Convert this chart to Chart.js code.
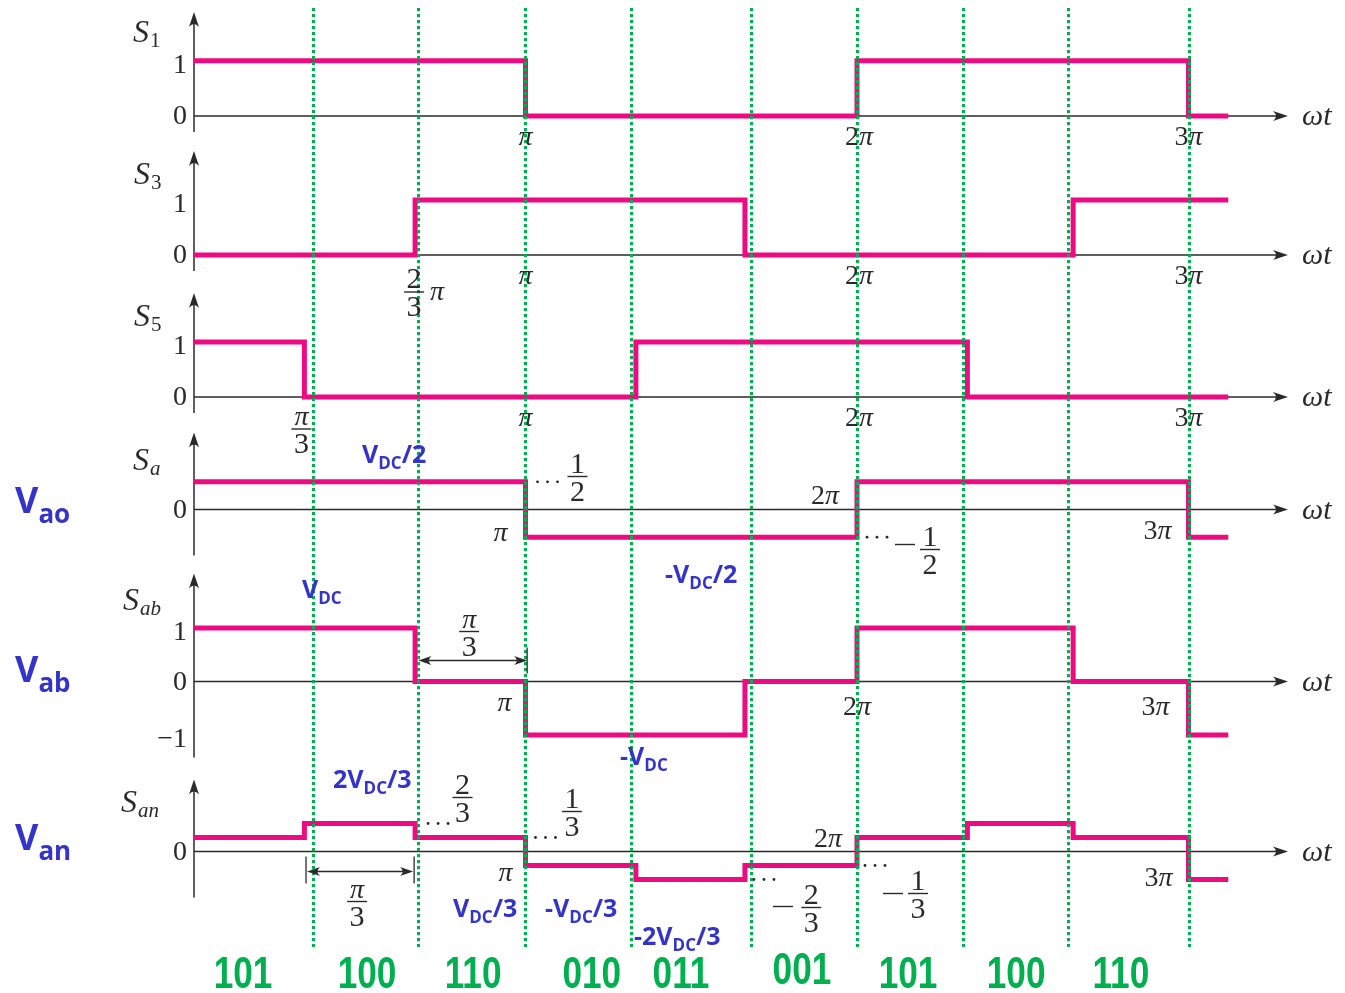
<!DOCTYPE html>
<html>
<head>
<meta charset="utf-8">
<script src="https://cdn.jsdelivr.net/npm/chart.js@4.4.0/dist/chart.umd.min.js"></script>
<style>
  html, body { margin: 0; padding: 0; background: #fff; }
  #wrap { width: 1345px; height: 993px; }
</style>
</head>
<body>
<div id="wrap"><canvas id="c" width="1345" height="993"></canvas></div>
<script>
// switching functions, x in units of pi
const s1Edges = [0, 1, 2, 3, 3.12];
const s1Levels = [1, 0, 1, 0];
const s3Edges = [0, 0.667, 1.662, 2.652, 3.12];
const s3Levels = [0, 1, 0, 1];
const s5Edges = [0, 0.333, 1.333, 2.333, 3.12];
const s5Levels = [1, 0, 1, 0];
const saEdges = [0, 1, 2, 3, 3.12];
const saLevels = [0.5, -0.5, 0.5, -0.5];
const sabEdges = [0, 0.667, 1, 1.662, 2, 2.652, 3, 3.12];
const sabLevels = [1, 0, -1, 0, 1, 0, -1];
const sanEdges = [0, 0.333, 0.667, 1, 1.333, 1.662, 2, 2.333, 2.652, 3, 3.12];
const sanLevels = [0.333, 0.667, 0.333, -0.333, -0.667, -0.333, 0.333, 0.667, 0.333, -0.667];

// y tick labels of each panel
const s1Ticks = [1, 0];
const s3Ticks = [1, 0];
const s5Ticks = [1, 0];
const saTicks = [0];
const sabTicks = [1, 0, -1];
const sanTicks = [0];

// green sector boundaries and switch states
const guideX = [0.359, 0.677, 0.997, 1.318, 1.680, 2.0, 2.320, 2.638, 3.0];
const stateCodes = ['101', '100', '110', '010', '011', '001', '101', '100', '110'];
const stateX = [0.148, 0.522, 0.842, 1.2, 1.469, 1.834, 2.154, 2.48, 2.796];

const W = 1345, H = 993;
const X_ORIGIN = 194, PX_PER_PI = 331.5, X_AXIS_END = 3.30;

const PINK = '#ee0a80', GREEN = '#00b050', BLUE = '#3434c8', INK = '#2a2a2a';
const SERIF = "'Liberation Serif', 'DejaVu Serif', serif";
const up = s => `${s}px ${SERIF}`;
const it = s => `italic ${s}px ${SERIF}`;
const blue = s => `bold ${s}px 'Open Sans', 'DejaVu Sans', sans-serif`;

// panel layout: zero line pixel, pixels per unit, axis extent above / below zero
const panels = [
  { id: 'yS1', edges: s1Edges, levels: s1Levels, ticks: s1Ticks, sub: '1', subIt: false, zero: 116, unit: 55.3, top: 104, bottom: 16, lx: 133, ly: -74 },
  { id: 'yS3', edges: s3Edges, levels: s3Levels, ticks: s3Ticks, sub: '3', subIt: false, zero: 255, unit: 55, top: 104, bottom: 16, lx: 134, ly: -71 },
  { id: 'yS5', edges: s5Edges, levels: s5Levels, ticks: s5Ticks, sub: '5', subIt: false, zero: 397, unit: 55, top: 104, bottom: 16, lx: 134, ly: -71 },
  { id: 'ySa', edges: saEdges, levels: saLevels, ticks: saTicks, sub: 'a', subIt: true, zero: 509.5, unit: 55.4, top: 77, bottom: 46, lx: 133, ly: -40 },
  { id: 'ySab', edges: sabEdges, levels: sabLevels, ticks: sabTicks, sub: 'ab', subIt: true, zero: 681.5, unit: 53.5, top: 108, bottom: 76, lx: 123, ly: -72 },
  { id: 'ySan', edges: sanEdges, levels: sanLevels, ticks: sanTicks, sub: 'an', subIt: true, zero: 851.5, unit: 42, top: 72, bottom: 46, lx: 121, ly: -40 }
];

const scales = {
  x: { type: 'linear', display: false, min: -X_ORIGIN / PX_PER_PI, max: (W - X_ORIGIN) / PX_PER_PI }
};
panels.forEach(p => {
  scales[p.id] = { type: 'linear', display: false, min: (p.zero - H) / p.unit, max: p.zero / p.unit };
});

const datasets = panels.map(p => ({
  data: p.edges.map((x, i) => ({ x: x, y: p.levels[Math.min(i, p.levels.length - 1)] })),
  yAxisID: p.id,
  stepped: true,
  borderColor: PINK,
  borderWidth: 5,
  borderJoinStyle: 'miter',
  borderCapStyle: 'butt',
  pointRadius: 0,
  fill: false
}));

function seg(ctx, x1, y1, x2, y2) {
  ctx.beginPath(); ctx.moveTo(x1, y1); ctx.lineTo(x2, y2); ctx.stroke();
}

function arrowHead(ctx, x, y, ang, len = 15, hw = 5) {
  ctx.save();
  ctx.translate(x, y);
  ctx.rotate(ang);
  ctx.beginPath();
  ctx.moveTo(0, 0);
  ctx.lineTo(-len, -hw);
  ctx.quadraticCurveTo(-len * 0.6, 0, -len, hw);
  ctx.closePath();
  ctx.fill();
  ctx.restore();
}

function text(ctx, s, x, y, font, align = 'left', base = 'alphabetic', color = INK) {
  ctx.font = font; ctx.fillStyle = color;
  ctx.textAlign = align; ctx.textBaseline = base;
  ctx.fillText(s, x, y);
}

// pieces = [[string, font], ...] drawn side by side, centred on cx
function pieces(ctx, parts, cx, base, align = 'center') {
  let w = 0;
  parts.forEach(([s, f]) => { ctx.font = f; w += ctx.measureText(s).width; });
  let x = align === 'center' ? cx - w / 2 : (align === 'right' ? cx - w : cx);
  parts.forEach(([s, f]) => {
    text(ctx, s, x, base, f);
    ctx.font = f; x += ctx.measureText(s).width;
  });
}

function frac(ctx, num, den, cx, barY, numFont = up(30), denFont = up(30)) {
  ctx.font = numFont; const w1 = ctx.measureText(num).width;
  ctx.font = denFont; const w2 = ctx.measureText(den).width;
  const w = Math.max(w1, w2) + 5;
  ctx.fillStyle = INK;
  ctx.fillRect(cx - w / 2, barY - 0.7, w, 1.4);
  text(ctx, num, cx, barY - 4, numFont, 'center');
  text(ctx, den, cx, barY + 24, denFont, 'center');
}

function dots(ctx, x, y) {
  ctx.fillStyle = INK;
  for (let i = 0; i < 3; i++) {
    ctx.beginPath(); ctx.arc(x + i * 10, y, 1.4, 0, Math.PI * 2); ctx.fill();
  }
}

function minus(ctx, cx, y) {
  ctx.fillStyle = INK;
  ctx.fillRect(cx - 10, y - 0.7, 20, 1.4);
}

function piTick(ctx, k, cx, base) {
  pieces(ctx, k ? [[k, up(28)], ['\u03c0', it(28)]] : [['\u03c0', it(28)]], cx, base);
}

// blue voltage label: pre + subscript + post
function vLabel(ctx, pre, sub, post, x, base, big, small, drop) {
  text(ctx, pre, x, base, blue(big), 'left', 'alphabetic', BLUE);
  ctx.font = blue(big); x += ctx.measureText(pre).width;
  text(ctx, sub, x, base + drop, blue(small), 'left', 'alphabetic', BLUE);
  ctx.font = blue(small); x += ctx.measureText(sub).width;
  if (post) text(ctx, post, x, base, blue(big), 'left', 'alphabetic', BLUE);
}

function dimArrow(ctx, x1, x2, y) {
  ctx.lineWidth = 1.3;
  seg(ctx, x1 + 6, y, x2 - 6, y);
  arrowHead(ctx, x1, y, Math.PI, 13, 4.5);
  arrowHead(ctx, x2, y, 0, 13, 4.5);
}

const schematic = {
  id: 'schematic',
  beforeDatasetsDraw(chart) {
    const ctx = chart.ctx, xs = chart.scales.x;
    ctx.save();
    ctx.strokeStyle = INK; ctx.fillStyle = INK; ctx.lineWidth = 1.5;
    const x0 = xs.getPixelForValue(0), xe = xs.getPixelForValue(X_AXIS_END);
    panels.forEach(p => {
      const y0 = chart.scales[p.id].getPixelForValue(0);
      seg(ctx, x0, y0, xe - 8, y0);
      arrowHead(ctx, xe, y0, 0);
      seg(ctx, x0, y0 + p.bottom, x0, y0 - p.top + 8);
      arrowHead(ctx, x0, y0 - p.top, -Math.PI / 2);
    });
    ctx.restore();
  },
  afterDatasetsDraw(chart) {
    const ctx = chart.ctx, xs = chart.scales.x;
    ctx.save();
    ctx.strokeStyle = GREEN; ctx.lineWidth = 3; ctx.setLineDash([3.3, 2.7]);
    guideX.forEach(v => {
      const x = Math.round(xs.getPixelForValue(v)) + 0.5;
      seg(ctx, x, 8, x, 947);
    });
    ctx.restore();
  },
  afterDraw(chart) {
    const ctx = chart.ctx, xs = chart.scales.x;
    const X = v => xs.getPixelForValue(v);
    const Y = (id, v) => chart.scales[id].getPixelForValue(v);
    ctx.save();

    // panel names, y ticks and omega t
    panels.forEach(p => {
      const z = Y(p.id, 0);
      pieces(ctx, [['S', it(32)]], p.lx, z + p.ly, 'left');
      ctx.font = it(32);
      const sw = ctx.measureText('S').width;
      text(ctx, p.sub, p.lx + sw + 1, z + p.ly + 5, p.subIt ? it(21) : up(21));
      p.ticks.forEach(t => {
        const lab = t < 0 ? '\u2212' + (-t) : String(t);
        text(ctx, lab, X(0) - 7, Y(p.id, t) + (t === 0 ? 1 : 5), up(28), 'right', 'middle');
      });
      pieces(ctx, [['\u03c9', it(30)], ['t', it(30)]], X(X_AXIS_END) + 14, z + 9, 'left');
    });

    // S1, S3, S5 angle ticks
    ['yS1', 'yS3', 'yS5'].forEach(id => {
      const b = Y(id, 0) + 29;
      piTick(ctx, '', X(1), b);
      piTick(ctx, '2', X(2) + 2, b);
      piTick(ctx, '3', X(3), b);
    });
    let z = Y('yS3', 0);
    frac(ctx, '2', '3', X(0.667) - 1, z + 37);
    text(ctx, '\u03c0', X(0.667) + 15, z + 45, it(28));
    z = Y('yS5', 0);
    frac(ctx, '\u03c0', '3', X(0.333) - 3, z + 32, it(28), up(30));

    // Sa
    z = Y('ySa', 0);
    piTick(ctx, '', X(1) - 25, z + 31);
    dots(ctx, X(1) + 12, Y('ySa', 0.5));
    frac(ctx, '1', '2', X(1) + 52, z - 33);
    piTick(ctx, '2', X(2) - 32, z - 6);
    dots(ctx, X(2) + 10, Y('ySa', -0.5));
    minus(ctx, X(2) + 48, z + 35);
    frac(ctx, '1', '2', X(2) + 73, z + 40);
    piTick(ctx, '3', X(3) - 31, z + 29);

    // Sab
    z = Y('ySab', 0);
    frac(ctx, '\u03c0', '3', X(0.83), z - 50, it(28), up(30));
    ctx.strokeStyle = INK; ctx.fillStyle = INK;
    dimArrow(ctx, X(0.677), X(1.005), z - 21);
    seg(ctx, X(1.005), z - 34, X(1.005), z - 8);
    piTick(ctx, '', X(1) - 21, z + 29);
    piTick(ctx, '2', X(2), z + 33);
    piTick(ctx, '3', X(3) - 33, z + 33);

    // San
    z = Y('ySan', 0);
    dots(ctx, X(0.667) + 13, Y('ySan', 0.667));
    frac(ctx, '2', '3', X(0.81), z - 54);
    dots(ctx, X(1) + 10, Y('ySan', 0.333));
    frac(ctx, '1', '3', X(1.14), z - 40);
    piTick(ctx, '', X(1) - 20, z + 29);
    ctx.strokeStyle = INK; ctx.fillStyle = INK;
    seg(ctx, X(0.338), z + 5, X(0.338), z + 32);
    seg(ctx, X(0.664), z + 5, X(0.664), z + 32);
    dimArrow(ctx, X(0.338) + 1, X(0.664) - 1, z + 20);
    frac(ctx, '\u03c0', '3', X(0.492), z + 50, it(28), up(30));
    dots(ctx, X(1.662) + 9, Y('ySan', -0.667));
    minus(ctx, X(1.662) + 38, z + 55);
    frac(ctx, '2', '3', X(1.862), z + 56);
    piTick(ctx, '2', X(2) - 29, z - 5);
    dots(ctx, X(2) + 8, Y('ySan', -0.333));
    minus(ctx, X(2) + 36, z + 42);
    frac(ctx, '1', '3', X(2.184), z + 42);
    piTick(ctx, '3', X(3) - 30, z + 34);

    // blue voltage labels
    vLabel(ctx, 'V', 'ao', '', 15, 513, 36, 26, 10);
    vLabel(ctx, 'V', 'ab', '', 15, 682, 36, 26, 10);
    vLabel(ctx, 'V', 'an', '', 15, 850, 36, 26, 10);
    vLabel(ctx, 'V', 'DC', '/2', 362, 463, 25, 17, 6);
    vLabel(ctx, 'V', 'DC', '', 302, 598, 25, 17, 6);
    vLabel(ctx, '-V', 'DC', '/2', 665, 583, 25, 17, 6);
    vLabel(ctx, '-V', 'DC', '', 620, 765, 25, 17, 6);
    vLabel(ctx, '2V', 'DC', '/3', 333, 788, 25, 17, 6);
    vLabel(ctx, 'V', 'DC', '/3', 453, 917, 25, 17, 6);
    vLabel(ctx, '-V', 'DC', '/3', 545, 917, 25, 17, 6);
    vLabel(ctx, '-2V', 'DC', '/3', 634, 945, 25, 17, 6);

    // switch states
    stateCodes.forEach((s, i) => {
      ctx.save();
      ctx.translate(X(stateX[i]), i === 5 ? 984 : 988);
      ctx.scale(0.8, 1);
      text(ctx, s, 0, 0, "bold 44px 'Liberation Sans', Arial, sans-serif", 'center', 'alphabetic', GREEN);
      ctx.restore();
    });

    ctx.restore();
  }
};

new Chart(document.getElementById('c'), {
  type: 'line',
  data: { datasets: datasets },
  options: {
    responsive: false,
    animation: false,
    events: [],
    layout: { padding: 0 },
    parsing: true,
    plugins: { legend: { display: false }, tooltip: { enabled: false }, title: { display: false } },
    scales: scales
  },
  plugins: [schematic]
});
</script>
</body>
</html>
